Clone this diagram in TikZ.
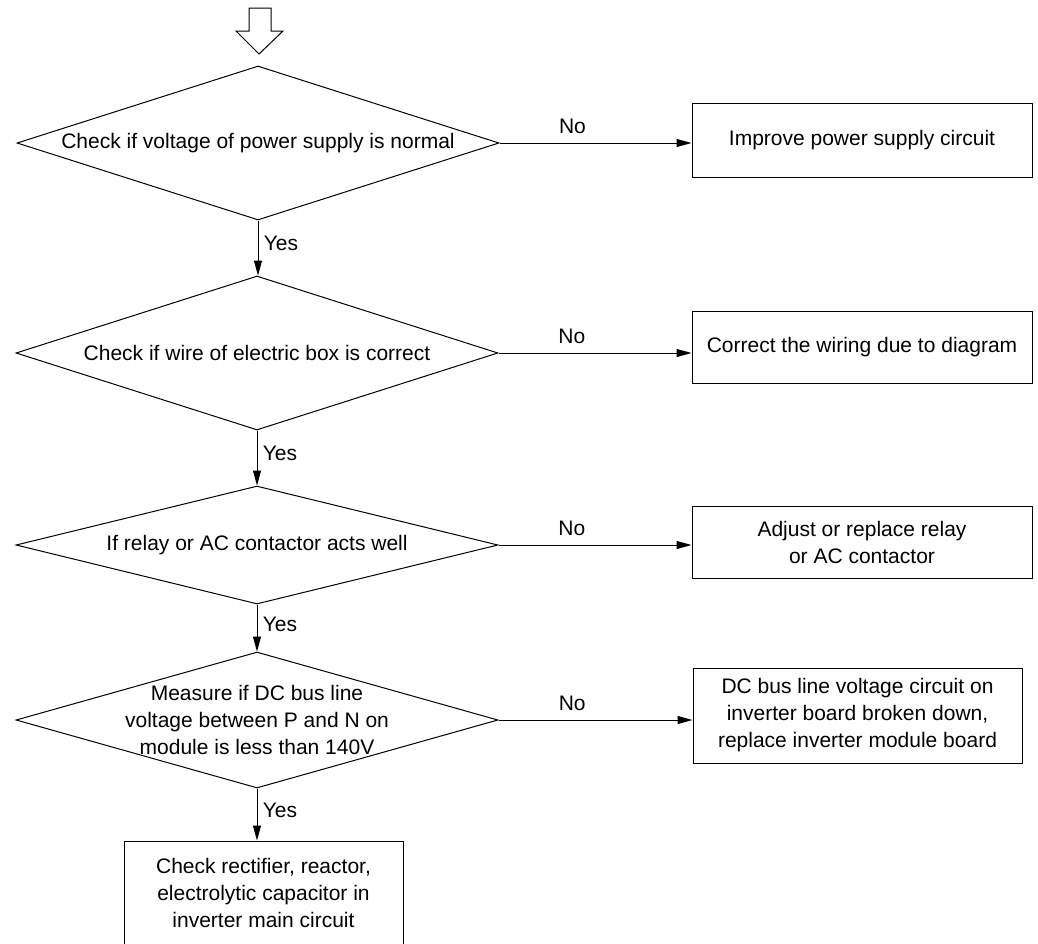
\documentclass[tikz,border=0pt]{standalone}
\usepackage{fontspec}
\setmainfont{Liberation Sans}
\usetikzlibrary{shapes.geometric, arrows.meta}

\begin{document}
\begin{tikzpicture}[x=1pt, y=-1pt, line width=1pt,
  font=\fontsize{21}{27}\selectfont,
  decision/.style={diamond, draw, inner sep=0pt, minimum width=482pt},
  action/.style={rectangle, draw, align=center, inner sep=0pt},
  arr/.style={-{Triangle[length=15pt, width=8pt]}}]

\useasboundingbox (0,0) rectangle (1038,943);
\clip (0,0) rectangle (1038,943);

% Flecha de entrada
\draw (249,8) -- (271,8) -- (271,31) -- (283,31) -- (259,54) -- (236,31) -- (249,31) -- cycle;

% Decisiones
\node[decision, minimum height=154pt,
  label={[align=center]center:Check if voltage of power supply is normal}] (d1) at (258,143) {};
\node[decision, minimum height=154pt,
  label={[align=center]center:Check if wire of electric box is correct}] (d2) at (257,353) {};
\node[decision, minimum height=118pt,
  label={[align=center]center:If relay or AC contactor acts well}] (d3) at (257,545) {};
\node[decision, minimum height=136pt,
  label={[align=center]center:Measure if DC bus line\\voltage between P and N on\\module is less than 140V}] (d4) at (257,720) {};

% Acciones
\node[action, minimum width=340pt, minimum height=74pt] (b1) at (862,140) {Improve power supply circuit};
\node[action, minimum width=340pt, minimum height=72pt] (b2) at (862,347) {Correct the wiring due to diagram};
\node[action, minimum width=340pt, minimum height=72pt] (b3) at (862,542) {Adjust or replace relay\\or AC contactor};
\node[action, minimum width=329pt, minimum height=95pt] (b4) at (857.5,715.5) {DC bus line voltage circuit on\\inverter board broken down,\\replace inverter module board};
\node[action, minimum width=279pt, minimum height=104pt] (fin) at (263.5,893) {Check rectifier, reactor,\\electrolytic capacitor in\\inverter main circuit};

% Conexiones
\foreach \d/\b in {d1/b1, d2/b2, d3/b3, d4/b4}
	\draw[arr] (\d.east) -- (\d.east -| \b.west) node[above=5pt, pos=0.38] {No};

\foreach \a/\b in {d1/d2, d2/d3, d3/d4, d4/fin}
	\draw[arr] (\a.south) -- (\a.south |- \b.north) node[right=2pt, pos=0.42] {Yes};
\end{tikzpicture}
\end{document}
